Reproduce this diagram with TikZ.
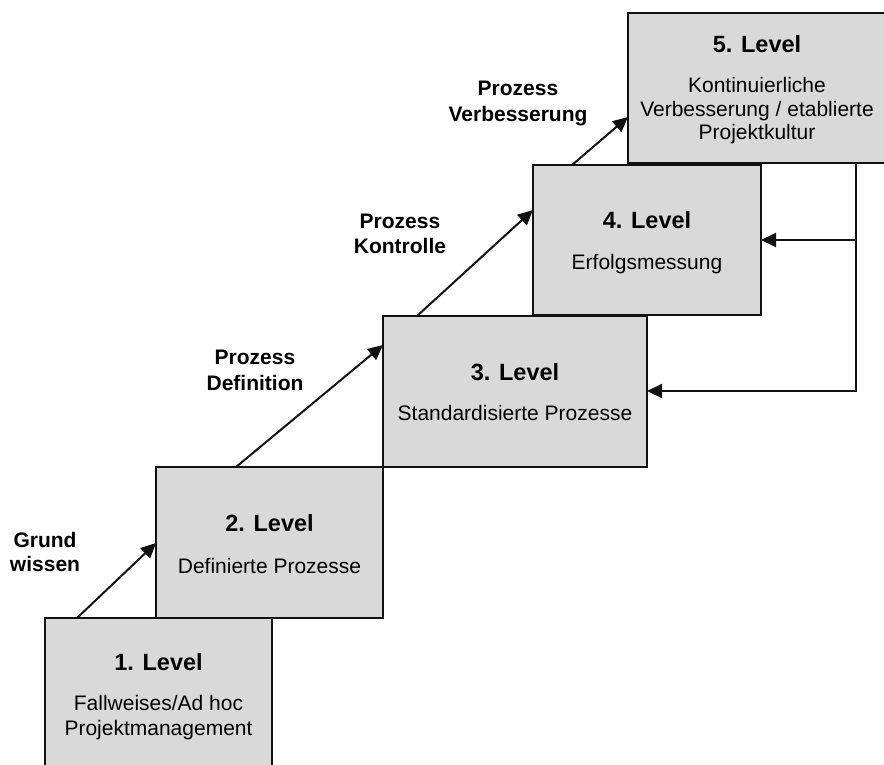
\documentclass[tikz,border=0pt]{standalone}
\usepackage{fontspec}
\setmainfont{Liberation Sans}
\usetikzlibrary{arrows.meta}
\definecolor{boxfill}{HTML}{D9D9D9}
\definecolor{edge}{HTML}{111111}
\begin{document}
\begin{tikzpicture}[x=1pt,y=-1pt,
  lvl/.style={draw=edge,line width=2pt,fill=boxfill,anchor=north west,inner sep=0pt,outer sep=0pt},
  head/.style={anchor=base,inner sep=0pt,font=\fontsize{23.5}{28}\selectfont\bfseries},
  body/.style={anchor=base,inner sep=0pt,font=\fontsize{21}{25}\selectfont},
  lab/.style={anchor=base,inner sep=0pt,font=\fontsize{21}{25}\selectfont\bfseries},
  arr/.style={draw=edge,line width=2pt,-{Triangle[length=15pt,width=14pt]}},
  ln/.style={draw=edge,line width=2pt}]
\useasboundingbox (0,0) rectangle (884,764);
% boxes
\node[lvl,minimum width=227pt,minimum height=165pt] (b1) at (45,618) {};
\node[lvl,minimum width=227pt,minimum height=151pt] (b2) at (156,467) {};
\node[lvl,minimum width=264pt,minimum height=151pt] (b3) at (383,316) {};
\node[lvl,minimum width=228pt,minimum height=150pt] (b4) at (533,165) {};
\node[lvl,minimum width=260pt,minimum height=150pt] (b5) at (628,13) {};
% box texts
\node[head] (h1) at (158.5,670) {1. Level};
\node[body] (t1a) at (158.5,710) {Fallweises/Ad hoc};
\node[body] (t1b) at (158.5,735) {Projektmanagement};
\node[head] (h2) at (269.5,531) {2. Level};
\node[body] (t2a) at (269.5,573) {Definierte Prozesse};
\node[head] (h3) at (515,380) {3. Level};
\node[body] (t3a) at (515,420) {Standardisierte Prozesse};
\node[head] (h4) at (647,228) {4. Level};
\node[body] (t4a) at (647,269) {Erfolgsmessung};
\node[head] (h5) at (757,52) {5. Level};
\node[body] (t5a) at (757,92.5) {Kontinuierliche};
\node[body] (t5b) at (757,116) {Verbesserung / etablierte};
\node[body] (t5c) at (757,139) {Projektkultur};
% arrow labels
\node[lab] (l1a) at (45,547) {Grund};
\node[lab] (l1b) at (45,571) {wissen};
\node[lab] (l2a) at (255,364) {Prozess};
\node[lab] (l2b) at (255,390) {Definition};
\node[lab] (l3a) at (400,228) {Prozess};
\node[lab] (l3b) at (400,253) {Kontrolle};
\node[lab] (l4a) at (518,95) {Prozess};
\node[lab] (l4b) at (518,121) {Verbesserung};
% connector coordinates
\coordinate (s1) at (77,618);   \coordinate (e1) at (156,543);
\coordinate (s2) at (236,467);  \coordinate (e2) at (383,345);
\coordinate (s3) at (417,316);  \coordinate (e3) at (533,210);
\coordinate (s4) at (572,165);  \coordinate (e4) at (628,117);
\coordinate (f0) at (856,163);
\coordinate (f1) at (856,240);  \coordinate (g1) at (761,240);
\coordinate (f2) at (856,391);  \coordinate (g2) at (647,391);
% step arrows
\draw[arr] (s1) -- (e1);
\draw[arr] (s2) -- (e2);
\draw[arr] (s3) -- (e3);
\draw[arr] (s4) -- (e4);
% feedback
\draw[ln,line cap=rect] (f0) -- (f2);
\draw[arr] (f2) -- (g2);
\draw[arr] (f1) -- (g1);
\end{tikzpicture}
\end{document}
